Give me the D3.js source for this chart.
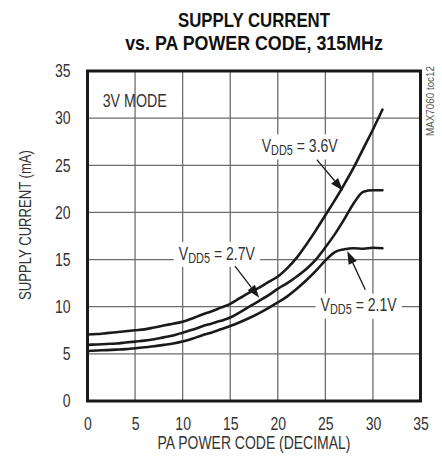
<!DOCTYPE html>
<html>
<head>
<meta charset="utf-8">
<script src="https://cdn.jsdelivr.net/npm/d3@7/dist/d3.min.js"></script>
<style>
  html, body { margin: 0; padding: 0; background: #fff; }
  svg { display: block; }
  text { font-family: "Liberation Sans", Arial, Helvetica, sans-serif; fill: #222; }
</style>
</head>
<body>
<svg id="chart" width="442" height="462"></svg>
<script>
// ---- data ----
const codes = d3.range(0, 32);
const vdd36 = [7.05, 7.1, 7.2, 7.3, 7.4, 7.5, 7.6, 7.8, 8.0, 8.2, 8.4, 8.75, 9.15, 9.5, 9.9, 10.3,
               10.9, 11.5, 12.0, 12.6, 13.2, 14.1, 15.2, 16.6, 18.1, 19.7, 21.3, 23.0, 24.8, 26.8, 28.8, 30.9];
const vdd27 = [5.95, 6.0, 6.05, 6.1, 6.2, 6.3, 6.4, 6.55, 6.75, 6.95, 7.25, 7.55, 7.9, 8.2, 8.5, 8.85,
               9.4, 10.0, 10.6, 11.2, 11.9, 12.5, 13.2, 14.0, 15.0, 16.3, 17.7, 19.3, 21.0, 22.2, 22.35, 22.35];
const vdd21 = [5.3, 5.35, 5.4, 5.45, 5.5, 5.6, 5.7, 5.8, 5.95, 6.1, 6.3, 6.6, 6.95, 7.25, 7.6, 7.95,
               8.35, 8.8, 9.3, 9.85, 10.45, 11.1, 11.9, 12.8, 13.8, 14.9, 15.8, 16.1, 16.2, 16.15, 16.25, 16.2];
const xTicks = [0, 5, 10, 15, 20, 25, 30, 35];
const yTicks = [0, 5, 10, 15, 20, 25, 30, 35];
const titleLines = ["SUPPLY CURRENT", "vs. PA POWER CODE, 315MHz"];
const xTitle = "PA POWER CODE (DECIMAL)";
const yTitle = "SUPPLY CURRENT (mA)";
const modeLabel = "3V MODE";
const noteText = "MAX7060 toc12";
// annotation labels in data coordinates: label anchor (center, baseline), arrow from -> to
const seriesLabels = [
  { sub: "DD5", value: "3.6V", lx: 22.3, ly: 26.4, ax1: 24.1, ay1: 25.6, ax2: 26.85, ay2: 22.3 },
  { sub: "DD5", value: "2.7V", lx: 13.6, ly: 15.0, ax1: 15.5, ay1: 14.3, ax2: 18.05, ay2: 10.95 },
  { sub: "DD5", value: "2.1V", lx: 28.5, ly: 9.5,  ax1: 29.2, ay1: 11.8, ax2: 27.3, ay2: 15.9 }
];

// ---- chart ----
const svg = d3.select("#chart");
const x = d3.scaleLinear().domain([0, 35]).range([87.5, 420.5]);
const y = d3.scaleLinear().domain([0, 35]).range([401, 71]);
const K = 0.78; // horizontal condensing to imitate a narrow typeface

function condense(sel, k) {
  sel.each(function () {
    const el = d3.select(this);
    const ax = +el.attr("x") || 0, ay = +el.attr("y") || 0;
    const prev = el.attr("transform") || "";
    el.attr("transform", `${prev} translate(${ax},${ay}) scale(${k},1) translate(${-ax},${-ay})`);
  });
}
function fitWidth(sel, target) {
  sel.each(function () {
    const w = this.getComputedTextLength();
    condense(d3.select(this), target / w);
  });
}

// title
const titles = svg.append("g").selectAll("text").data(titleLines).join("text")
  .attr("x", 254).attr("y", (d, i) => 27 + i * 23.5)
  .attr("text-anchor", "middle")
  .style("font-size", "20px").style("font-weight", "bold").style("fill", "#111")
  .text(d => d);
fitWidth(titles.filter((d, i) => i === 0), 152);
fitWidth(titles.filter((d, i) => i === 1), 258);

// grid
const grid = svg.append("g");
grid.selectAll("line.v").data(xTicks.slice(1, -1)).join("line")
  .attr("x1", d => x(d)).attr("x2", d => x(d)).attr("y1", y(35)).attr("y2", y(0))
  .attr("stroke", "#6e6e6e").attr("stroke-width", 1.3);
grid.selectAll("line.h").data(yTicks.slice(1, -1)).join("line")
  .attr("y1", d => y(d)).attr("y2", d => y(d)).attr("x1", x(0)).attr("x2", x(35))
  .attr("stroke", "#6e6e6e").attr("stroke-width", 1.3);

// axes (labels only)
const xAxis = d3.axisBottom(x).tickValues(xTicks).tickSize(0).tickPadding(16);
const gx = svg.append("g").attr("transform", `translate(0,${y(0)})`).call(xAxis);
gx.select(".domain").remove();
gx.selectAll("text").style("font-size", "18px").style("fill", "#333")
  .style("font-family", '"Liberation Sans", Arial, sans-serif');
condense(gx.selectAll("text"), K);

const yAxis = d3.axisLeft(y).tickValues(yTicks).tickSize(0).tickPadding(17);
const gy = svg.append("g").attr("transform", `translate(${x(0)},0)`).call(yAxis);
gy.select(".domain").remove();
gy.selectAll("text").style("font-size", "18px").style("fill", "#333")
  .style("font-family", '"Liberation Sans", Arial, sans-serif');
condense(gy.selectAll("text"), K);

// axis titles
const xt = svg.append("text").attr("x", 254).attr("y", 449).attr("text-anchor", "middle")
  .style("font-size", "17.5px").style("fill", "#333").text(xTitle);
fitWidth(xt, 193);
const yt = svg.append("text").attr("transform", "translate(31,225) rotate(-90)").attr("text-anchor", "middle")
  .style("font-size", "17px").style("fill", "#333").text(yTitle);
fitWidth(yt, 150);

// watermark
const wm = svg.append("text").attr("transform", "translate(434,101) rotate(-90)").attr("text-anchor", "middle")
  .style("font-size", "11px").style("fill", "#555").text(noteText);
fitWidth(wm, 70);

// mode label
const ml = svg.append("text").attr("x", x(1.6)).attr("y", y(31.2))
  .style("font-size", "17.5px").style("fill", "#333").text(modeLabel);
fitWidth(ml, 64);

// curves
const line = d3.line().x((d, i) => x(codes[i])).y(d => y(d)).curve(d3.curveMonotoneX);
svg.append("g").selectAll("path").data([vdd36, vdd27, vdd21]).join("path")
  .attr("d", line).attr("fill", "none").attr("stroke", "#1a1a1a")
  .attr("stroke-width", 2.6).attr("stroke-linejoin", "round").attr("stroke-linecap", "round");

// series labels with arrows
const ann = svg.append("g");
seriesLabels.forEach(s => {
  const g = ann.append("g");
  const bg = g.append("rect").attr("fill", "#fff");
  const t = g.append("text").attr("x", x(s.lx)).attr("y", y(s.ly))
    .attr("text-anchor", "middle").style("font-size", "18px").style("fill", "#333");
  t.append("tspan").text("V");
  t.append("tspan").attr("dy", 3).style("font-size", "14px").text(s.sub);
  t.append("tspan").attr("dy", -3).text(" = " + s.value);
  condense(t, K);
  const bb = t.node().getBBox();
  const cx = x(s.lx);
  const w = bb.width * K;
  bg.attr("x", cx - w / 2 - 5).attr("y", bb.y - 1).attr("width", w + 10).attr("height", bb.height + 2);
  // arrow
  const X1 = x(s.ax1), Y1 = y(s.ay1), X2 = x(s.ax2), Y2 = y(s.ay2);
  const ang = Math.atan2(Y2 - Y1, X2 - X1);
  const L = 13, W = 4.5;
  const bx = X2 - L * Math.cos(ang), by = Y2 - L * Math.sin(ang);
  g.append("line").attr("x1", X1).attr("y1", Y1).attr("x2", bx).attr("y2", by)
    .attr("stroke", "#1a1a1a").attr("stroke-width", 1.3);
  const px = -Math.sin(ang), py = Math.cos(ang);
  g.append("path")
    .attr("d", `M${X2},${Y2}L${bx + W * px},${by + W * py}L${bx - W * px},${by - W * py}Z`)
    .attr("fill", "#1a1a1a");
});

// frame
svg.append("rect").attr("x", x(0)).attr("y", y(35)).attr("width", x(35) - x(0)).attr("height", y(0) - y(35))
  .attr("fill", "none").attr("stroke", "#1a1a1a").attr("stroke-width", 3);
</script>
</body>
</html>
